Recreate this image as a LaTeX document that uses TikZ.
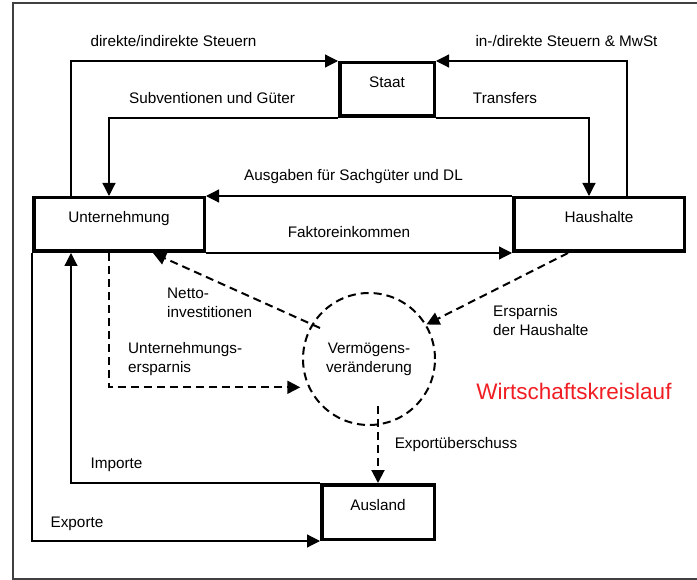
\documentclass[tikz,border=0pt]{standalone}
\usepackage{fontspec}
\setmainfont{Liberation Sans}
\usetikzlibrary{arrows.meta, positioning, calc}
\definecolor{kreisred}{RGB}{240,30,35}

\begin{document}
\begin{tikzpicture}[
  x=1pt, y=-1pt,
  sector/.style={rectangle, draw, line width=3.5pt, inner sep=0pt,
    minimum width=170.5pt, minimum height=53.5pt,
    text height=11pt, text depth=15pt, font=\fontsize{15.3}{19}\selectfont},
  lbl/.style={inner sep=0pt, text height=11pt, text depth=3pt,
    font=\fontsize{15.3}{19}\selectfont},
  mlbl/.style={inner sep=0pt, align=left, font=\fontsize{15.3}{19}\selectfont},
  arr/.style={-{Triangle[length=13pt,width=13pt]}, line width=1.2pt},
  darr/.style={-{Triangle[length=13pt,width=13pt]}, line width=2pt,
    dash pattern=on 8pt off 5pt}
]
  \useasboundingbox (0,0) rectangle (697,580);
  \clip (0,0) rectangle (697,580);
  \draw[line width=1.5pt, black!75] (13,3) rectangle (710,579);

  %% sectors
  \node[sector, minimum width=94.5pt] (staat) at (387,89.5) {Staat};
  \node[sector] (unt) at (119,224.5) {Unternehmung};
  \node[sector] (haus) at (599,224.5) {Haushalte};
  \node[sector, minimum width=112.5pt, minimum height=54.5pt] (ausland) at (378,512) {Ausland};
  \node[circle, draw, line width=2pt, dash pattern=on 8pt off 5pt,
    minimum size=132pt, inner sep=0pt, align=center,
    font=\fontsize{15.3}{19}\selectfont] (verm) at (369,359)
    {Vermögens-\\veränderung};

  %% flows
  \draw[arr] ($(unt.north west)+(39,0)$) |- (staat.north west);
  \draw[arr] (staat.south west) -| ($(unt.north west)+(77,0)$);
  \draw[arr] (staat.south east) -| ($(haus.north west)+(77,0)$);
  \draw[arr] ($(haus.north west)+(115,0)$) |- (staat.north east);
  \draw[arr] (haus.north west) -- (unt.north east);
  \draw[arr] (unt.south east) -- (haus.south west);
  \draw[arr] (ausland.north west) -| ($(unt.south west)+(39,0)$);
  \draw[arr] (unt.south west) |- (ausland.south west);

  %% savings
  \draw[darr] ($(unt.south west)+(77,0)$) |- ($(verm.205)+(-8,0)$);
  \draw[darr] ($(verm.center)+(-49,-31)$) -- ($(unt.south)+(34,0)$);
  \draw[darr] ($(haus.south)+(-31,0)$) -- (verm.31.5);
  \draw[darr] ($(verm.center)+(9,47)$) -- (ausland.north);

  %% labels
  \node[lbl] (lsteuer) at (173.5,43) {direkte/indirekte Steuern};
  \node[lbl] (lsubv) at (212,100) {Subventionen und Güter};
  \node[lbl] (ltrans) at (505,100) {Transfers};
  \node[lbl] (lmwst) at (566.5,43) {in-/direkte Steuern \& MwSt};
  \node[lbl] (lausg) at (353.5,177) {Ausgaben für Sachgüter und DL};
  \node[lbl] (lfakt) at (349,234) {Faktoreinkommen};
  \node[mlbl, anchor=west] (lnetto) at (167,302.5) {Netto-\\investitionen};
  \node[mlbl, anchor=west] (luers) at (128,359) {Unternehmungs-\\ersparnis};
  \node[mlbl, anchor=west] (lhers) at (493,321) {Ersparnis\\der Haushalte};
  \node[lbl] (lexpu) at (456,445) {Exportüberschuss};
  \node[lbl] (limp) at (116.5,464) {Importe};
  \node[lbl] (lexp) at (77,523) {Exporte};
  \node[inner sep=0pt, text=kreisred, font=\fontsize{22.5}{26}\selectfont]
    (titel) at (574,391) {Wirtschaftskreislauf};
\end{tikzpicture}
\end{document}
